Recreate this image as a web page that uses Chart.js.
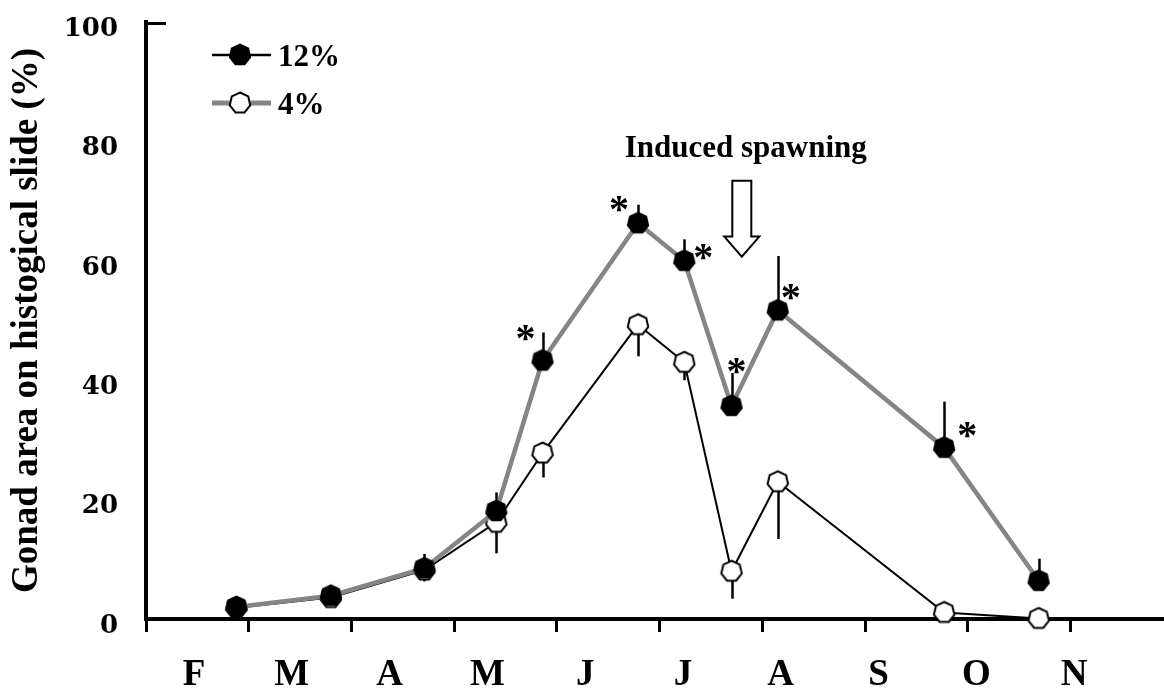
<!DOCTYPE html>
<html>
<head>
<meta charset="utf-8">
<script src="https://cdn.jsdelivr.net/npm/chart.js@4.4.1/dist/chart.umd.min.js"></script>
<style>
  html, body { margin: 0; padding: 0; background: #fff; }
  #wrap { width: 1164px; height: 688px; }
</style>
</head>
<body>
<div id="wrap"><canvas id="gonad" width="1164" height="688"></canvas></div>
<script>
// Month labels along the bottom (first sample month = February)
const monthLabels = ['F', 'M', 'A', 'M', 'J', 'J', 'A', 'S', 'O', 'N'];
const yTickValues = [0, 20, 40, 60, 80, 100];

// Sampling dates, in months counted from 1 February
const sampleMonth = [0.88, 1.80, 2.71, 3.41, 3.86, 4.79, 5.24, 5.70, 6.15, 7.77, 8.69];

// Gonad area (%) and standard errors
const gonad12 = [2.0, 3.9, 8.5, 18.1, 43.3, 66.3, 60.0, 35.7, 51.7, 28.7, 6.4];
const se12    = [0.8, 1.2, 2.4, 3.1, 4.7, 3.1, 3.6, 5.5, 9.1, 7.7, 3.7];
const gonad4  = [1.9, 3.6, 8.2, 16.2, 27.8, 49.3, 43.0, 8.0, 23.0, 1.1, 0.1];
const se4     = [0.6, 0.9, 1.9, 5.2, 4.1, 5.3, 3.0, 4.6, 9.6, 0.8, 0.3];

// Samples where the 12% group differs significantly (asterisks)
const starredSamples = [4, 5, 6, 7, 8, 9];
const starOffsets = [[-17, -27], [-19, -19], [19, -9], [5, -40], [13, -18], [23, -18]];

// Induced spawning event marker
const spawningLabel = 'Induced spawning';
const spawningMonth = 5.80;
const spawningArrowTop = 73.4;
const spawningArrowTip = 60.7;

const SERIF = '"Liberation Serif", "Times New Roman", serif';
const GREY = '#858585';

// Heptagon marker, drawn once into a small canvas and reused as a pointStyle
function heptagonMarker(fill, stroke, r) {
  const size = 26;
  const cv = document.createElement('canvas');
  cv.width = size; cv.height = size;
  const g = cv.getContext('2d');
  g.beginPath();
  for (let i = 0; i < 7; i++) {
    const a = -Math.PI / 2 + i * 2 * Math.PI / 7;
    const px = size / 2 + r * Math.cos(a);
    const py = size / 2 + r * Math.sin(a);
    if (i === 0) g.moveTo(px, py); else g.lineTo(px, py);
  }
  g.closePath();
  g.fillStyle = fill;
  g.fill();
  if (stroke) { g.lineWidth = 2; g.strokeStyle = stroke; g.stroke(); }
  return cv;
}
const filledMarker = heptagonMarker('#000', null, 11.5);
const openMarker = heptagonMarker('#fff', '#000', 10.5);

const toPoints = vals => sampleMonth.map((m, i) => ({ x: m, y: vals[i] }));

// Keep the plot frame flush with the layout box (no automatic label padding)
const noEdgePadding = s => {
  s.paddingLeft = 0; s.paddingRight = 0; s.paddingTop = 0; s.paddingBottom = 0;
};

// Vertical error bars: 12% upward, 4% downward
const errorBars = {
  id: 'errorBars',
  beforeDatasetsDraw(chart) {
    const { ctx, scales: { x, y } } = chart;
    ctx.save();
    ctx.strokeStyle = '#000';
    ctx.lineWidth = 2.5;
    chart.data.datasets.forEach(ds => {
      ds.data.forEach((p, i) => {
        const e = ds.errors[i];
        if (!e) return;
        const px = Math.round(x.getPixelForValue(p.x)) + 0.5;
        ctx.beginPath();
        ctx.moveTo(px, y.getPixelForValue(p.y));
        ctx.lineTo(px, y.getPixelForValue(p.y + ds.errorSign * e));
        ctx.stroke();
      });
    });
    ctx.restore();
  }
};

// Asterisks, spawning arrow, key and the short cap at the top of the y axis
const annotations = {
  id: 'annotations',
  afterDraw(chart) {
    const { ctx, scales: { x, y }, chartArea } = chart;
    ctx.save();

    // top cap of the y axis
    ctx.strokeStyle = '#000';
    ctx.lineWidth = 3;
    ctx.beginPath();
    ctx.moveTo(chartArea.left - 2, chartArea.top + 1.5);
    ctx.lineTo(chartArea.left + 20, chartArea.top + 1.5);
    ctx.stroke();

    // asterisks
    ctx.fillStyle = '#000';
    ctx.font = 'bold 40px ' + SERIF;
    ctx.textAlign = 'center';
    ctx.textBaseline = 'alphabetic';
    const m = ctx.measureText('*');
    const mid = (m.actualBoundingBoxAscent - m.actualBoundingBoxDescent) / 2;
    const ds12 = chart.data.datasets[0];
    starredSamples.forEach((idx, k) => {
      const p = ds12.data[idx];
      const cx = x.getPixelForValue(p.x) + starOffsets[k][0];
      const cy = y.getPixelForValue(p.y) + starOffsets[k][1];
      ctx.fillText('*', cx, cy + mid);
    });

    // spawning arrow (hollow, pointing down)
    const ax = x.getPixelForValue(spawningMonth);
    const yTop = y.getPixelForValue(spawningArrowTop);
    const yTip = y.getPixelForValue(spawningArrowTip);
    const headLen = 20, shaftHalf = 9.5, headHalf = 17.5;
    ctx.beginPath();
    ctx.moveTo(ax - shaftHalf, yTop);
    ctx.lineTo(ax + shaftHalf, yTop);
    ctx.lineTo(ax + shaftHalf, yTip - headLen);
    ctx.lineTo(ax + headHalf, yTip - headLen);
    ctx.lineTo(ax, yTip);
    ctx.lineTo(ax - headHalf, yTip - headLen);
    ctx.lineTo(ax - shaftHalf, yTip - headLen);
    ctx.closePath();
    ctx.fillStyle = '#fff';
    ctx.fill();
    ctx.lineWidth = 2;
    ctx.strokeStyle = '#000';
    ctx.stroke();

    ctx.fillStyle = '#000';
    ctx.font = 'bold 31px ' + SERIF;
    ctx.textAlign = 'center';
    ctx.textBaseline = 'alphabetic';
    ctx.fillText(spawningLabel, ax + 4, yTop - 24);

    // key
    chart.data.datasets.forEach((ds, i) => {
      const ly = 55 + i * 48;
      ctx.strokeStyle = ds.keyLineColor;
      ctx.lineWidth = ds.keyLineWidth;
      ctx.beginPath();
      ctx.moveTo(212, ly);
      ctx.lineTo(271, ly);
      ctx.stroke();
      const img = ds.pointStyle;
      ctx.drawImage(img, 240 - img.width / 2, ly - img.height / 2);
      ctx.fillStyle = '#000';
      ctx.font = 'bold 31px ' + SERIF;
      ctx.textAlign = 'left';
      ctx.textBaseline = 'alphabetic';
      ctx.fillText(ds.label, 278, ly + 11);
    });

    ctx.restore();
  }
};

new Chart(document.getElementById('gonad'), {
  type: 'line',
  data: {
    datasets: [
      {
        label: '12%',
        data: toPoints(gonad12),
        errors: se12,
        errorSign: 1,
        borderColor: GREY,
        borderWidth: 4.5,
        pointStyle: filledMarker,
        pointRadius: 11,
        tension: 0,
        clip: false,
        keyLineColor: '#000',
        keyLineWidth: 2.5
      },
      {
        label: '4%',
        data: toPoints(gonad4),
        errors: se4,
        errorSign: -1,
        borderColor: '#000',
        borderWidth: 2,
        pointStyle: openMarker,
        pointRadius: 11,
        tension: 0,
        clip: false,
        keyLineColor: GREY,
        keyLineWidth: 5
      }
    ]
  },
  options: {
    responsive: false,
    animation: false,
    devicePixelRatio: 1,
    layout: { autoPadding: false, padding: { top: 22, left: 0, right: 0, bottom: 0 } },
    plugins: { legend: { display: false }, tooltip: { enabled: false } },
    scales: {
      x: {
        type: 'linear',
        position: 'bottom',
        min: 0,
        max: 9.91,
        afterBuildTicks: s => { s.ticks = monthLabels.map((_, i) => ({ value: i })); },
        ticks: { display: false },
        grid: { display: true, drawOnChartArea: false, drawTicks: true, tickLength: 13, tickWidth: 3, tickColor: '#000', color: '#000' },
        border: { display: true, color: '#000', width: 4 },
        afterFit: s => { s.height = 13; noEdgePadding(s); }
      },
      months: {
        type: 'linear',
        position: 'bottom',
        min: 0,
        max: 9.91,
        afterBuildTicks: s => { s.ticks = monthLabels.map((_, i) => ({ value: 0.467 + 0.952 * i })); },
        ticks: {
          autoSkip: false,
          maxRotation: 0,
          color: '#000',
          padding: 21,
          font: { family: SERIF, size: 37, weight: 'bold' },
          callback: (v, i) => monthLabels[i]
        },
        grid: { display: false, drawTicks: false },
        border: { display: false },
        afterFit: s => { s.height = 56; noEdgePadding(s); }
      },
      y: {
        min: 0,
        max: 100,
        afterBuildTicks: s => { s.ticks = yTickValues.map(v => ({ value: v })); },
        ticks: {
          color: '#000',
          padding: 28,
          labelOffset: 7,
          font: { family: '"DejaVu Serif", serif', size: 26, weight: 'bold' }
        },
        grid: { display: false, drawTicks: false },
        border: { display: true, color: '#000', width: 4 },
        title: {
          display: true,
          text: 'Gonad area on histogical slide (%)',
          color: '#000',
          padding: { top: 5, bottom: 0 },
          font: { family: SERIF, size: 37, weight: 'bold' }
        },
        afterFit: s => { s.width = 146; noEdgePadding(s); }
      }
    }
  },
  plugins: [errorBars, annotations]
});
</script>
</body>
</html>
